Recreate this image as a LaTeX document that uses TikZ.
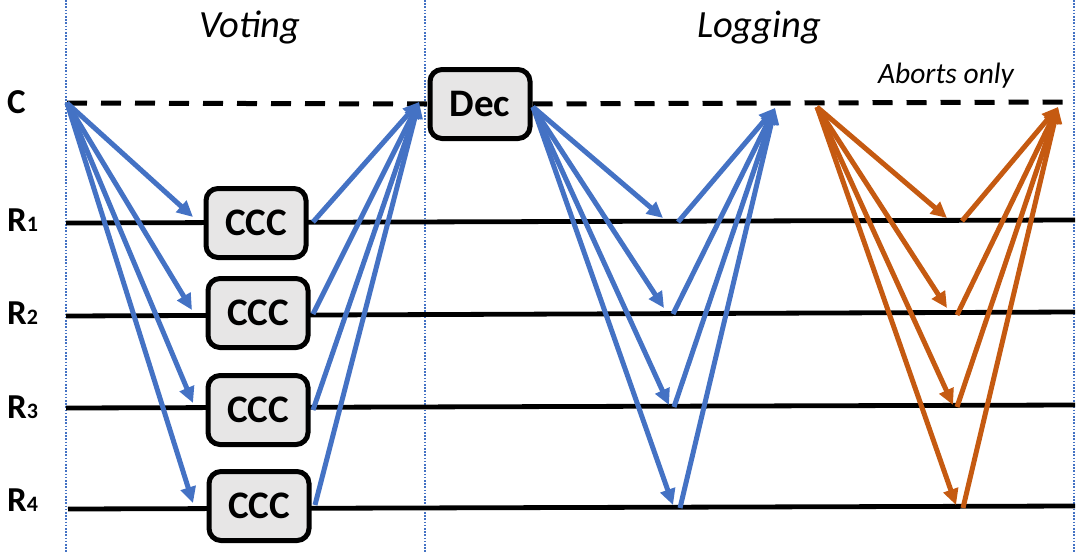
\documentclass[tikz,border=0pt]{standalone}
\usepackage{fontspec}
\setmainfont{Carlito}
\usetikzlibrary{arrows.meta}
\definecolor{msgblue}{HTML}{4472C4}
\definecolor{msgorange}{HTML}{C55A11}
\definecolor{boxgray}{HTML}{E7E6E6}
\begin{document}
\begin{tikzpicture}[x=1pt,y=-1pt,
  box/.style={draw=black,line width=5pt,fill=boxgray,rounded corners=12pt,
    minimum width=100pt,minimum height=69pt,inner sep=0pt,
    font=\fontsize{39}{39}\selectfont\bfseries},
  lbl/.style={inner sep=0pt,anchor=base west,font=\fontsize{35}{35}\selectfont\bfseries},
  title/.style={inner sep=0pt,anchor=base,font=\fontsize{38.5}{38.5}\selectfont\itshape},
  phase/.style={draw=msgblue,line width=2pt,dash pattern=on 1.6pt off 1.6pt},
  proc/.style={draw=black,line width=4.8pt},
  coord/.style={draw=black,line width=5pt,dash pattern=on 20pt off 14pt},
  bmsg/.style={draw=msgblue,line width=5pt,-{Triangle[length=16pt,width=15pt]}},
  omsg/.style={draw=msgorange,line width=5pt,-{Triangle[length=16pt,width=15pt]}},
]
\useasboundingbox (0,0) rectangle (1082,552);
% phase separators
\coordinate (p1t) at (66,0); \coordinate (p1b) at (66,552);
\coordinate (p2t) at (425,0); \coordinate (p2b) at (425,552);
\coordinate (p3t) at (1074,0); \coordinate (p3b) at (1074,552);
\draw[phase] (p1t) -- (p1b);
\draw[phase] (p2t) -- (p2b);
\draw[phase] (p3t) -- (p3b);
% titles
\node[title] (tvote) at (250,37) {Voting};
\node[title] (tlog) at (759,37) {Logging};
\node[inner sep=0pt,anchor=base,font=\fontsize{29.5}{29.5}\selectfont\itshape] (tab) at (946,83) {Aborts only};
% labels
\node[lbl] (lc) at (7,113) {C};
\node[lbl] (lr1) at (7,231) {R{\fontsize{22}{22}\selectfont 1}};
\node[lbl] (lr2) at (7,324) {R{\fontsize{22}{22}\selectfont 2}};
\node[lbl] (lr3) at (7,418) {R{\fontsize{22}{22}\selectfont 3}};
\node[lbl] (lr4) at (7,511) {R{\fontsize{22}{22}\selectfont 4}};
% process lines
\coordinate (r1a) at (66,223); \coordinate (r1b) at (1075,220);
\coordinate (r2a) at (66,316); \coordinate (r2b) at (1075,312);
\coordinate (r3a) at (66,408); \coordinate (r3b) at (1075,405);
\coordinate (r4a) at (68,509); \coordinate (r4b) at (1075,506);
\draw[proc] (r1a) -- (r1b);
\draw[proc] (r2a) -- (r2b);
\draw[proc] (r3a) -- (r3b);
\draw[proc] (r4a) -- (r4b);
% boxes
\node[box] (ccc1) at (256,223) {CCC};
\node[box] (ccc2) at (258,313) {CCC};
\node[box] (ccc3) at (258,410) {CCC};
\node[box] (ccc4) at (259,506) {CCC};
\node[box] (dec) at (480,104) {Dec};
% coordinator line
\coordinate (cs) at (67,103);
\coordinate (ce) at (1065,102);
\draw[coord] (cs) -- (dec.west);
\draw[coord] (dec.east) -- (ce);
% voting
\coordinate (v1) at (193,217); \coordinate (v2) at (192,310);
\coordinate (v3) at (193,403); \coordinate (v4) at (193,503);
\coordinate (vt) at (419,102);
\draw[bmsg] (cs) -- (v1);
\draw[bmsg] (cs) -- (v2);
\draw[bmsg] (cs) -- (v3);
\draw[bmsg] (cs) -- (v4);
\coordinate (w1) at (313,222); \coordinate (w2) at (313,314);
\coordinate (w3) at (313,410); \coordinate (w4) at (315,505);
\draw[bmsg] (w1) -- (vt);
\draw[bmsg] (w2) -- (vt);
\draw[bmsg] (w3) -- (vt);
\draw[bmsg] (w4) -- (vt);
% logging (blue)
\coordinate (ls) at (533,107);
\coordinate (l1) at (663,218); \coordinate (l2) at (664,308);
\coordinate (l3) at (669,405); \coordinate (l4) at (673,505);
\draw[bmsg] (ls) -- (l1);
\draw[bmsg] (ls) -- (l2);
\draw[bmsg] (ls) -- (l3);
\draw[bmsg] (ls) -- (l4);
\coordinate (m1) at (678,222); \coordinate (m2) at (673,314);
\coordinate (m3) at (674,407); \coordinate (m4) at (680,508);
\coordinate (lt) at (775,108);
\draw[bmsg] (m1) -- (lt);
\draw[bmsg] (m2) -- (lt);
\draw[bmsg] (m3) -- (lt);
\draw[bmsg] (m4) -- (lt);
% aborts (orange)
\coordinate (os) at (817,107);
\coordinate (o1) at (947,218); \coordinate (o2) at (947,308);
\coordinate (o3) at (953,405); \coordinate (o4) at (956,505);
\draw[omsg] (os) -- (o1);
\draw[omsg] (os) -- (o2);
\draw[omsg] (os) -- (o3);
\draw[omsg] (os) -- (o4);
\coordinate (q1) at (962,221); \coordinate (q2) at (957,315);
\coordinate (q3) at (957,407); \coordinate (q4) at (963,508);
\coordinate (ot) at (1058,107);
\draw[omsg] (q1) -- (ot);
\draw[omsg] (q2) -- (ot);
\draw[omsg] (q3) -- (ot);
\draw[omsg] (q4) -- (ot);
\end{tikzpicture}
\end{document}
